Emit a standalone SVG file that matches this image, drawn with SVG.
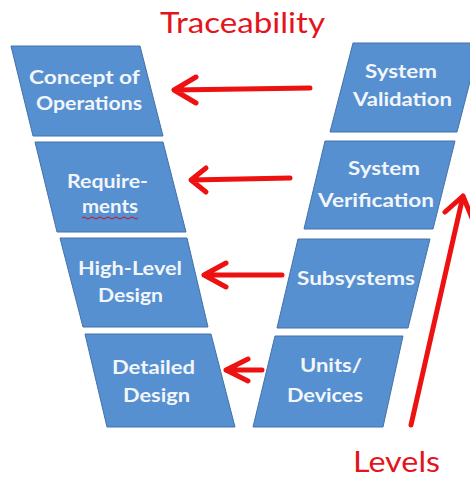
<svg xmlns="http://www.w3.org/2000/svg" width="470" height="479" viewBox="0 0 470 479">
  <defs>
    <style>
      .box { fill: #5690d0; stroke: #4272a8; stroke-width: 1; }
      .lbl { font-family: Lato, "Open Sans", "Liberation Sans", sans-serif; font-weight: bold; font-size: 19px; fill: #f2f6fb; }
      .red { fill: none; stroke: #ee1111; stroke-width: 5; stroke-linecap: round; stroke-linejoin: round; }
      .title { font-family: Lato, "Open Sans", "Liberation Sans", sans-serif; font-size: 28px; fill: #e3141c; }
    </style>
  </defs>
  <rect width="470" height="479" fill="#ffffff"/>

  <!-- left leg of the V -->
  <g id="concept-of-operations">
    <polygon class="box" points="11,46 140,46 163,136 33,136"/>
    <text class="lbl" x="29" y="84" textLength="111" lengthAdjust="spacingAndGlyphs">Concept of</text>
    <text class="lbl" x="36" y="110" textLength="106" lengthAdjust="spacingAndGlyphs">Operations</text>
  </g>
  <g id="requirements">
    <polygon class="box" points="35,142 163,142 186,232 57,232"/>
    <text class="lbl" x="67" y="188" textLength="81" lengthAdjust="spacingAndGlyphs">Require-</text>
    <text class="lbl" x="82" y="213" textLength="56" lengthAdjust="spacingAndGlyphs">ments</text>
    <path d="M82,218 q2,-2 4,0 t4,0 t4,0 t4,0 t4,0 t4,0 t4,0 t4,0 t4,0 t4,0 t4,0 t4,0 t4,0 t4,0" fill="none" stroke="#d01020" stroke-width="1"/>
  </g>
  <g id="high-level-design">
    <polygon class="box" points="60,238 187,238 208,327 83,327"/>
    <text class="lbl" x="78" y="275" textLength="104" lengthAdjust="spacingAndGlyphs">High-Level</text>
    <text class="lbl" x="98" y="302" textLength="65" lengthAdjust="spacingAndGlyphs">Design</text>
  </g>
  <g id="detailed-design">
    <polygon class="box" points="85,334 211,334 235,427 107,427"/>
    <text class="lbl" x="112" y="374" textLength="83" lengthAdjust="spacingAndGlyphs">Detailed</text>
    <text class="lbl" x="123" y="402" textLength="67" lengthAdjust="spacingAndGlyphs">Design</text>
  </g>

  <!-- right leg of the V -->
  <g id="system-validation">
    <polygon class="box" points="353,43 480,43 457,132 330,132"/>
    <text class="lbl" x="365" y="78" textLength="72" lengthAdjust="spacingAndGlyphs">System</text>
    <text class="lbl" x="353" y="106" textLength="99" lengthAdjust="spacingAndGlyphs">Validation</text>
  </g>
  <g id="system-verification">
    <polygon class="box" points="325,141 455,141 433,229 304,229"/>
    <text class="lbl" x="348" y="175" textLength="72" lengthAdjust="spacingAndGlyphs">System</text>
    <text class="lbl" x="318" y="207" textLength="116" lengthAdjust="spacingAndGlyphs">Verification</text>
  </g>
  <g id="subsystems">
    <polygon class="box" points="298,239 430,239 408,328 277,328"/>
    <text class="lbl" x="297" y="285" textLength="118" lengthAdjust="spacingAndGlyphs">Subsystems</text>
  </g>
  <g id="units-devices">
    <polygon class="box" points="275,336 403,336 383,427 253,427"/>
    <text class="lbl" x="300" y="372" textLength="62" lengthAdjust="spacingAndGlyphs">Units/</text>
    <text class="lbl" x="287" y="402" textLength="76" lengthAdjust="spacingAndGlyphs">Devices</text>
  </g>

  <!-- traceability and level connectors -->
  <g id="connectors">
    <path class="red" d="M310,88 L174,90 M196,77 L174,90 L196,103"/>
    <path class="red" d="M290,178 L191,180 M206,168 L191,180 L206,192"/>
    <path class="red" d="M282,275 L204,275 M226,263 L204,275 L226,287"/>
    <path class="red" d="M262,370 L226,370 M248,359 L226,370 L248,381"/>
    <path class="red" d="M411,425 L463,196 M445,212 L463,196 L472,218"/>
  </g>

  <text class="title" x="160" y="33" textLength="165" lengthAdjust="spacingAndGlyphs">Traceability</text>
  <text class="title" x="353" y="472" font-size="27" textLength="87" lengthAdjust="spacingAndGlyphs">Levels</text>
</svg>
